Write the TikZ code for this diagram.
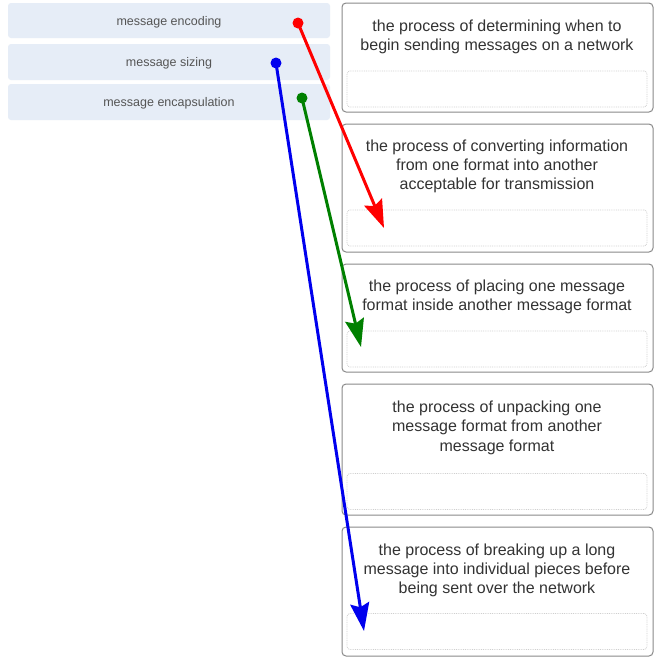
\documentclass[tikz,border=0pt]{standalone}
\usepackage{fontspec}
\setmainfont{Liberation Sans}
\usetikzlibrary{arrows.meta}
\definecolor{lbfill}{HTML}{E6EDF7}
\definecolor{lbtext}{HTML}{555555}
\definecolor{rbtext}{HTML}{333333}
\definecolor{rbdraw}{HTML}{8A8A8A}
\definecolor{fdraw}{HTML}{CFCFCF}
\definecolor{cred}{HTML}{FF0000}
\definecolor{cgreen}{HTML}{008000}
\definecolor{cblue}{HTML}{0000EE}
\tikzset{
  lbox/.style={fill=lbfill, draw=none, rounded corners=3pt, minimum width=322pt, inner sep=0pt,
    text=lbtext, font=\fontsize{12.5}{14}\selectfont, text height=9pt, text depth=0pt},
  rbox/.style={draw=rbdraw, line width=1pt, rounded corners=4pt, minimum width=311pt, inner sep=0pt, fill=white},
  field/.style={draw=fdraw, densely dotted, line width=0.8pt, rounded corners=3pt, minimum width=300pt, minimum height=36pt, inner sep=0pt},
  rtext/.style={text=rbtext, align=center, font=\fontsize{16}{19}\selectfont, inner sep=0pt},
  dot/.style={circle, inner sep=0pt, minimum size=11pt},
  conn/.style={line width=3pt, -{Stealth[length=28pt,width=19pt,inset=4pt]}},
}
\begin{document}
\begin{tikzpicture}[x=1pt,y=-1pt]
\useasboundingbox (0,0) rectangle (665,665);
\fill[white] (0,0) rectangle (665,665);
% left boxes
\node[lbox, minimum height=35pt] (l1) at (169,20.5) {message encoding};
\node[lbox, minimum height=36pt] (l2) at (169,62) {message sizing};
\node[lbox, minimum height=36pt] (l3) at (169,102) {message encapsulation};
% right boxes
\node[rbox, minimum height=109pt] (r1) at (497.5,57.5) {};
\node[rbox, minimum height=128pt] (r2) at (497.5,188) {};
\node[rbox, minimum height=108pt] (r3) at (497.5,318) {};
\node[rbox, minimum height=131pt] (r4) at (497.5,449.5) {};
\node[rbox, minimum height=129pt] (r5) at (497.5,591.5) {};
% fields
\node[field] (f1) at (497,89) {};
\node[field] (f2) at (497,228) {};
\node[field] (f3) at (497,349) {};
\node[field] (f4) at (497,491.5) {};
\node[field] (f5) at (497,631.5) {};
% texts
\node[rtext] (t1) at (497,36.5) {the process of determining when to\\begin sending messages on a network};
\node[rtext] (t2) at (497,166) {the process of converting information\\from one format into another\\acceptable for transmission};
\node[rtext] (t3) at (497,296.5) {the process of placing one message\\format inside another message format};
\node[rtext] (t4) at (497,428) {the process of unpacking one\\message format from another\\[1.5pt]message format};
\node[rtext] (t5) at (497,570) {the process of breaking up a long\\message into individual pieces before\\being sent over the network};
% connectors
\node[dot, fill=cred] (d1) at (298,23) {};
\node[dot, fill=cblue] (d2) at (276,63) {};
\node[dot, fill=cgreen] (d3) at (302,98) {};
\coordinate (e1) at (384,228);
\coordinate (e2) at (364,631);
\coordinate (e3) at (361,347);
\draw[conn, cred] (d1.center) -- (e1);
\draw[conn, cgreen] (d3.center) -- (e3);
\draw[conn, cblue] (d2.center) -- (e2);
\end{tikzpicture}
\end{document}
